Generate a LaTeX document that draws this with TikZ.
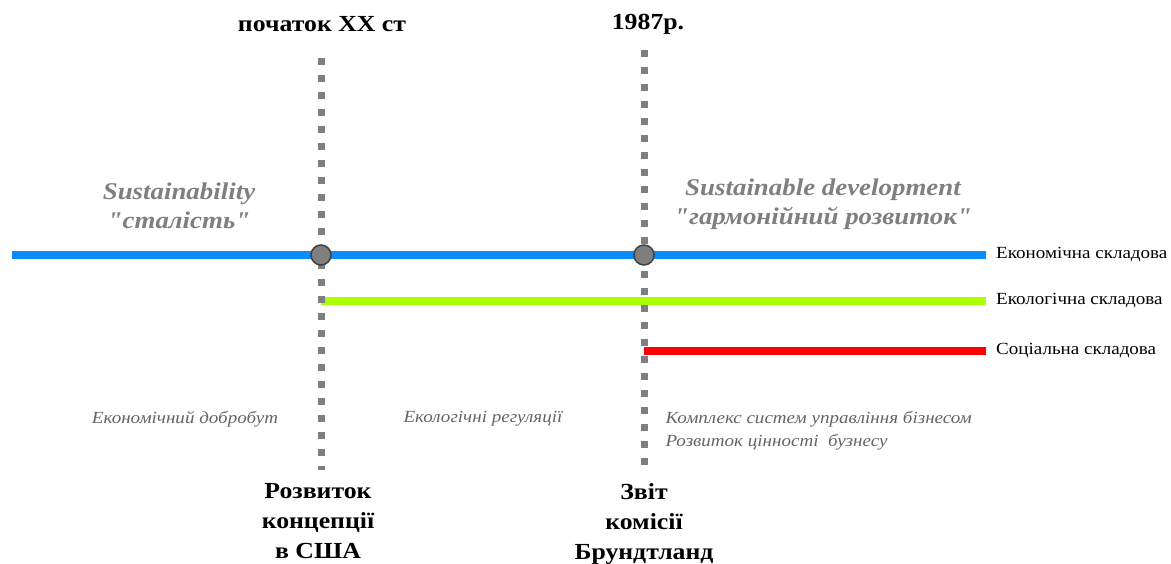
\documentclass[tikz,border=0pt]{standalone}
\usepackage{fontspec}
\setmainfont[FakeStretch=1.12, Ligatures=TeXOff]{Liberation Serif}
\usetikzlibrary{positioning}
\definecolor{econblue}{RGB}{10,140,250}
\definecolor{ecogreen}{RGB}{170,255,0}
\definecolor{dotgray}{RGB}{127,127,127}
\definecolor{rimgray}{RGB}{64,64,64}
\definecolor{notegray}{RGB}{100,100,100}

\begin{document}
\begin{tikzpicture}[x=1pt,y=-1pt,
  dotline/.style={line width=7pt, color=dotgray, dash pattern=on 7pt off 10pt},
  compline/.style={line width=8pt},
  comptext/.style={inner sep=0pt, font=\fontsize{17}{20}\selectfont},
  era/.style={text=dotgray, align=center, font=\bfseries\itshape\fontsize{24}{29}\selectfont},
  note/.style={text=notegray, font=\itshape\fontsize{17}{23}\selectfont},
  year/.style={inner sep=0pt, font=\bfseries\fontsize{23}{28}\selectfont},
  event/.style={anchor=north, inner sep=0pt, align=center, font=\bfseries\fontsize{23}{30}\selectfont}]
\useasboundingbox (0,0) rectangle (1171,564);
% components
\coordinate (e0) at (12,255);
\coordinate (e1) at (986,255);
\coordinate (g0) at (321,301);
\coordinate (g1) at (986,301);
\coordinate (s0) at (644,351);
\coordinate (s1) at (986,351);
\draw[compline, econblue] (e0)--(e1);
\draw[compline, ecogreen] (g0)--(g1);
\draw[compline, red] (s0)--(s1);
\node[comptext, right=10pt of e1] (econ) {Економічна складова};
\node[comptext, right=10pt of g1] (ecol) {Екологічна складова};
\node[comptext, right=10pt of s1] (soc) {Соціальна складова};
% milestones
\coordinate (a1) at (321,58);
\coordinate (b1) at (321,470);
\coordinate (a2) at (644,50);
\coordinate (b2) at (644,472);
\coordinate (p1) at (321,255);
\coordinate (p2) at (644,255);
\draw[dotline] (a1)--(b1);
\draw[dotline] (a2)--(b2);
\filldraw[fill=dotgray, draw=rimgray, line width=1.5pt] (p1) circle (10pt);
\filldraw[fill=dotgray, draw=rimgray, line width=1.5pt] (p2) circle (10pt);
\node[year] (start) at (322,24) {початок XX ст};
\node[year] (year) at (648,24) {1987р.};
\node[event] (usa) at (318,483) {Розвиток\\концепції\\в США};
\node[event] (report) at (644,483) {Звіт\\комісії\\Брундтланд};
% periods
\node[era] (sust) at (179,206) {Sustainability\\"сталість"};
\node[era] (sustdev) at (823,204) {Sustainable development\\"гармонійний розвиток"};
\node[note] (econnote) at (185,419) {Економічний добробут};
\node[note] (ecolnote) at (483,419) {Екологічні регуляції};
\node[note, anchor=west, align=left] (socnote) at (662,431) {Комплекс систем управління бізнесом\\Розвиток цінності \ бузнесу};
\end{tikzpicture}
\end{document}
